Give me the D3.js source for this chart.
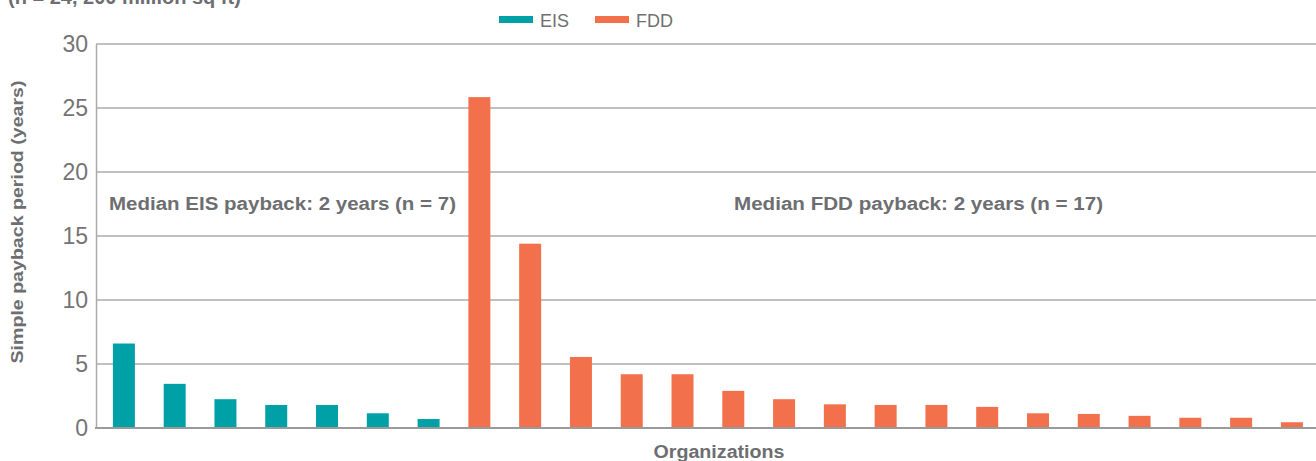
<!DOCTYPE html>
<html><head><meta charset="utf-8">
<script src="https://cdn.jsdelivr.net/npm/d3@7"></script>
<style>body{margin:0;background:#fff;}svg{display:block;}</style>
</head><body><svg id="c" width="1316" height="461"></svg>
<script>
const eisValues = [6.6, 3.45, 2.25, 1.8, 1.8, 1.15, 0.7];
const fddValues = [25.85, 14.4, 5.55, 4.2, 4.2, 2.9, 2.25, 1.85, 1.8, 1.8, 1.65, 1.15, 1.1, 0.95, 0.8, 0.8, 0.45];
const seriesNames = ["EIS", "FDD"];
const yTicks = [0, 5, 10, 15, 20, 25, 30];
const medianLabels = ["Median EIS payback: 2 years (n = 7)", "Median FDD payback: 2 years (n = 17)"];
const titleText = "(n = 24, 200 million sq ft)";
const yTitle = "Simple payback period (years)";
const xTitle = "Organizations";

const colors = {EIS: "#00a0a7", FDD: "#f2704c"};
const textGray = "#6d6e71";

const data = [
  ...eisValues.map((v, i) => ({id: "E" + i, series: "EIS", value: v})),
  ...fddValues.map((v, i) => ({id: "F" + i, series: "FDD", value: v}))
];

const svg = d3.select("#c");
const x = d3.scaleBand().domain(data.map(d => d.id)).range([98.5, 1317.3]).paddingInner(0.567).paddingOuter(0.2835);
const y = d3.scaleLinear().domain([0, 30]).range([428, 44]);

// gridlines
svg.append("g").selectAll("line").data(yTicks.filter(t => t > 0)).join("line")
  .attr("x1", 96).attr("x2", 1316).attr("y1", d => y(d)).attr("y2", d => y(d))
  .attr("stroke", "#ababab").attr("stroke-width", 1.5);

// y axis
const yAxis = d3.axisLeft(y).tickValues(yTicks).tickSize(0).tickPadding(8);
const ga = svg.append("g").attr("transform", "translate(96,0)").call(yAxis);
ga.select(".domain").attr("stroke", "#ababab").attr("stroke-width", 1.5);
ga.selectAll("text").attr("font-family", "Liberation Sans, Arial, sans-serif").attr("font-size", 23)
  .attr("fill", "#747474").attr("dy", "0.34em");

// bars
svg.append("g").selectAll("rect").data(data).join("rect")
  .attr("x", d => x(d.id)).attr("width", x.bandwidth())
  .attr("y", d => y(d.value)).attr("height", d => y(0) - y(d.value))
  .attr("fill", d => colors[d.series]);

// baseline
svg.append("line").attr("x1", 95).attr("x2", 1316).attr("y1", y(0)).attr("y2", y(0))
  .attr("stroke", "#9a9a9a").attr("stroke-width", 2);

const bold = "Liberation Sans, Arial, sans-serif";
// title (cut off at the top, as in the reference)
svg.append("text").attr("x", 8).attr("y", 4).text(titleText)
  .attr("font-family", bold).attr("font-weight", "bold").attr("font-size", 20).attr("fill", textGray);

// median labels
svg.append("text").attr("x", 109).attr("y", 210).text(medianLabels[0])
  .attr("font-family", bold).attr("font-weight", "bold").attr("font-size", 18).attr("fill", textGray)
  .attr("textLength", 347).attr("lengthAdjust", "spacingAndGlyphs");
svg.append("text").attr("x", 734).attr("y", 210).text(medianLabels[1])
  .attr("font-family", bold).attr("font-weight", "bold").attr("font-size", 18).attr("fill", textGray)
  .attr("textLength", 369).attr("lengthAdjust", "spacingAndGlyphs");

// axis titles
svg.append("text").attr("transform", "translate(23,222) rotate(-90)").attr("text-anchor", "middle").text(yTitle)
  .attr("font-family", bold).attr("font-weight", "bold").attr("font-size", 17).attr("fill", textGray)
  .attr("textLength", 283).attr("lengthAdjust", "spacingAndGlyphs");
svg.append("text").attr("x", 719).attr("y", 458).attr("text-anchor", "middle").text(xTitle)
  .attr("font-family", bold).attr("font-weight", "bold").attr("font-size", 18).attr("fill", textGray)
  .attr("textLength", 131).attr("lengthAdjust", "spacingAndGlyphs");

// legend
const legX = [499, 595];
const lg = svg.append("g").selectAll("g").data(seriesNames).join("g")
  .attr("transform", (d, i) => `translate(${legX[i]},0)`);
lg.append("rect").attr("x", 0).attr("y", 16).attr("width", 34).attr("height", 7).attr("fill", d => colors[d]);
lg.append("text").attr("x", 41).attr("y", 26.5).text(d => d)
  .attr("font-family", bold).attr("font-size", 18).attr("fill", "#707070");
</script></body></html>
